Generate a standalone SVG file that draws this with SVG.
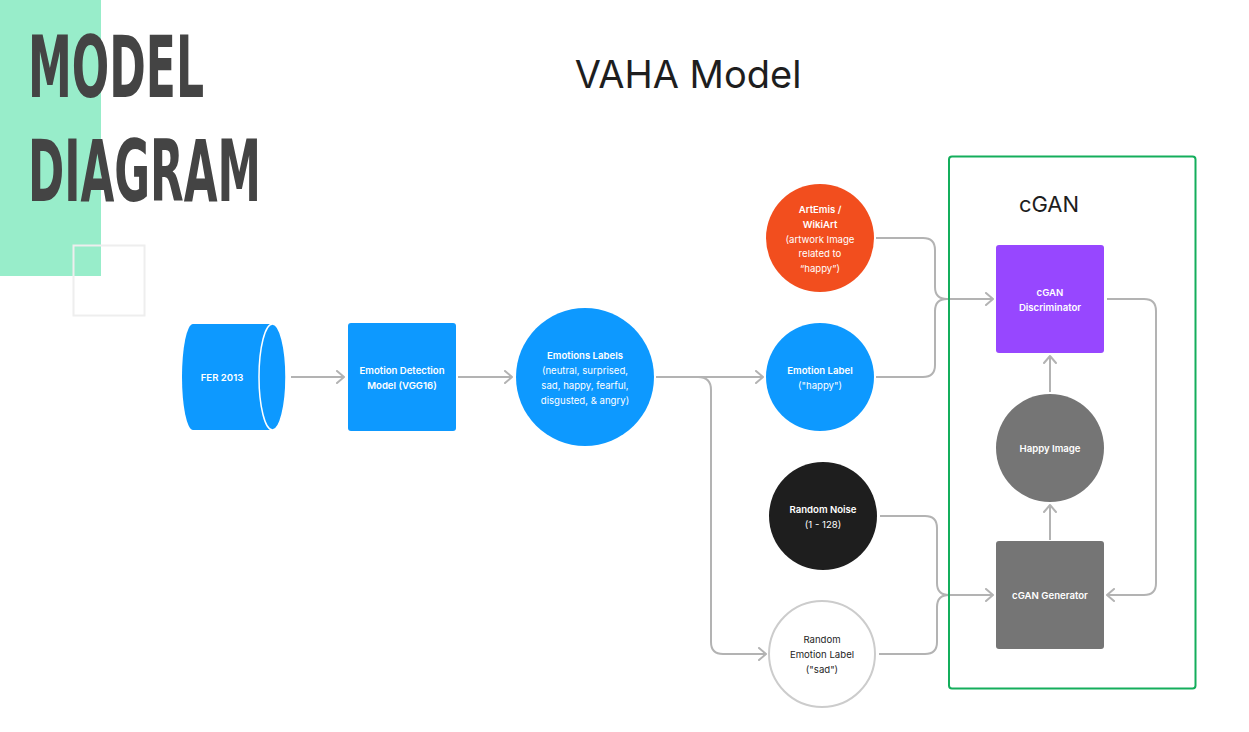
<svg xmlns="http://www.w3.org/2000/svg" width="1249" height="732" viewBox="0 0 1249 732">
<defs>
<marker id="arr" markerWidth="12" markerHeight="14" refX="9" refY="7" orient="auto" markerUnits="userSpaceOnUse">
<path d="M2 1 L9 7 L2 13" fill="none" stroke="#B3B3B3" stroke-width="2" stroke-linecap="round" stroke-linejoin="round"/>
</marker>
</defs>
<style>
.t{font-family:Inter,"Liberation Sans",sans-serif;font-size:9.6px;text-anchor:middle;fill:#fff}
.b{font-weight:600}
.d{fill:#1E1E1E}
.c{fill:none;stroke:#B3B3B3;stroke-width:2}
.head{font-family:"DejaVu Sans Condensed","Liberation Sans",sans-serif;font-weight:bold;fill:#444444;font-size:86px}
</style>
<rect width="1249" height="732" fill="#fff"/>
<g id="decor">
<rect x="0" y="0" width="101" height="276" fill="#98EDCA"/>
<rect x="73.5" y="245.5" width="71" height="70" fill="none" stroke="#EEEEEE" stroke-width="2"/>
<text class="head" x="28" y="97" textLength="176" lengthAdjust="spacingAndGlyphs">MODEL</text>
<text class="head" x="28" y="201" textLength="233" lengthAdjust="spacingAndGlyphs">DIAGRAM</text>
</g>
<text id="title" x="688" y="88" font-family="Inter,'Liberation Sans',sans-serif" font-size="38" fill="#1E1E1E" text-anchor="middle">VAHA Model</text>
<g id="connectors">
<path class="c" d="M291 377 H344" marker-end="url(#arr)"/>
<path class="c" d="M458 377 H512" marker-end="url(#arr)"/>
<path class="c" d="M656 377 H763" marker-end="url(#arr)"/>
<path class="c" d="M698 377 Q711 377 711 390 V642 Q711 654 723 654 H766" marker-end="url(#arr)"/>
<path class="c" d="M876 238 H923 Q935 238 935 250 V287 Q935 299 947 299 H993" marker-end="url(#arr)"/>
<path class="c" d="M876 377 H923 Q935 377 935 365 V311 Q935 299 947 299"/>
<path class="c" d="M880 516 H925 Q937 516 937 528 V583 Q937 595 949 595 H993" marker-end="url(#arr)"/>
<path class="c" d="M879 654 H925 Q937 654 937 642 V607 Q937 595 949 595"/>
<path class="c" d="M1050 540 V505" marker-end="url(#arr)"/>
<path class="c" d="M1050 392 V356" marker-end="url(#arr)"/>
<path class="c" d="M1107 299 H1144 Q1156 299 1156 311 V583 Q1156 595 1144 595 H1107" marker-end="url(#arr)"/>
</g>
<g id="cgan-frame">
<rect x="949" y="156.5" width="246.5" height="532" rx="3" fill="none" stroke="#14AE5C" stroke-width="2"/>
<text x="1049" y="212" font-family="Inter,'Liberation Sans',sans-serif" font-size="22" fill="#1E1E1E" text-anchor="middle">cGAN</text>
</g>
<g id="fer2013">
<path d="M272 324 H193 A11 53 0 0 0 193 430 H272 Z" fill="#0D99FF"/>
<ellipse cx="272.5" cy="377" rx="13.5" ry="53" fill="#0D99FF" stroke="#fff" stroke-width="1.5"/>
<text class="t b" x="222" y="380.5">FER 2013</text>
</g>
<g id="emotion-detection">
<rect x="348" y="323" width="108" height="108" rx="3" fill="#0D99FF"/>
<text class="t b" x="402" y="373.5">Emotion Detection</text>
<text class="t b" x="402" y="388.5">Model (VGG16)</text>
</g>
<g id="emotions-labels">
<circle cx="585" cy="377" r="69" fill="#0D99FF"/>
<text class="t b" x="585" y="358.5">Emotions Labels</text>
<text class="t" x="585" y="373.5">(neutral, surprised,</text>
<text class="t" x="585" y="388.5">sad, happy, fearful,</text>
<text class="t" x="585" y="403.5">disgusted, &amp; angry)</text>
</g>
<g id="artemis">
<circle cx="820" cy="238" r="54" fill="#F24E1E"/>
<text class="t b" x="820" y="212.5">ArtEmis /</text>
<text class="t b" x="820" y="227.5">WikiArt</text>
<text class="t" x="820" y="242.5">(artwork Image</text>
<text class="t" x="820" y="257">related to</text>
<text class="t" x="820" y="271.5">“happy”)</text>
</g>
<g id="emotion-label">
<circle cx="820" cy="377" r="54" fill="#0D99FF"/>
<text class="t b" x="820" y="373.5">Emotion Label</text>
<text class="t" x="820" y="388.5">("happy")</text>
</g>
<g id="random-noise">
<circle cx="823" cy="516" r="54" fill="#1E1E1E"/>
<text class="t b" x="823" y="512.5">Random Noise</text>
<text class="t" x="823" y="527.5">(1 - 128)</text>
</g>
<g id="random-emotion-label">
<circle cx="822" cy="654" r="53" fill="#fff" stroke="#CCCCCC" stroke-width="2"/>
<text class="t d" x="822" y="643">Random</text>
<text class="t d" x="822" y="658">Emotion Label</text>
<text class="t d" x="822" y="673">("sad")</text>
</g>
<g id="discriminator">
<rect x="996" y="245" width="108" height="108" rx="3" fill="#9747FF"/>
<text class="t b" x="1050" y="295.5">cGAN</text>
<text class="t b" x="1050" y="310.5">Discriminator</text>
</g>
<g id="happy-image">
<circle cx="1050" cy="448" r="54" fill="#757575"/>
<text class="t b" x="1050" y="451.5">Happy Image</text>
</g>
<g id="generator">
<rect x="996" y="541" width="108" height="108" rx="3" fill="#757575"/>
<text class="t b" x="1050" y="598.5">cGAN Generator</text>
</g>
</svg>
